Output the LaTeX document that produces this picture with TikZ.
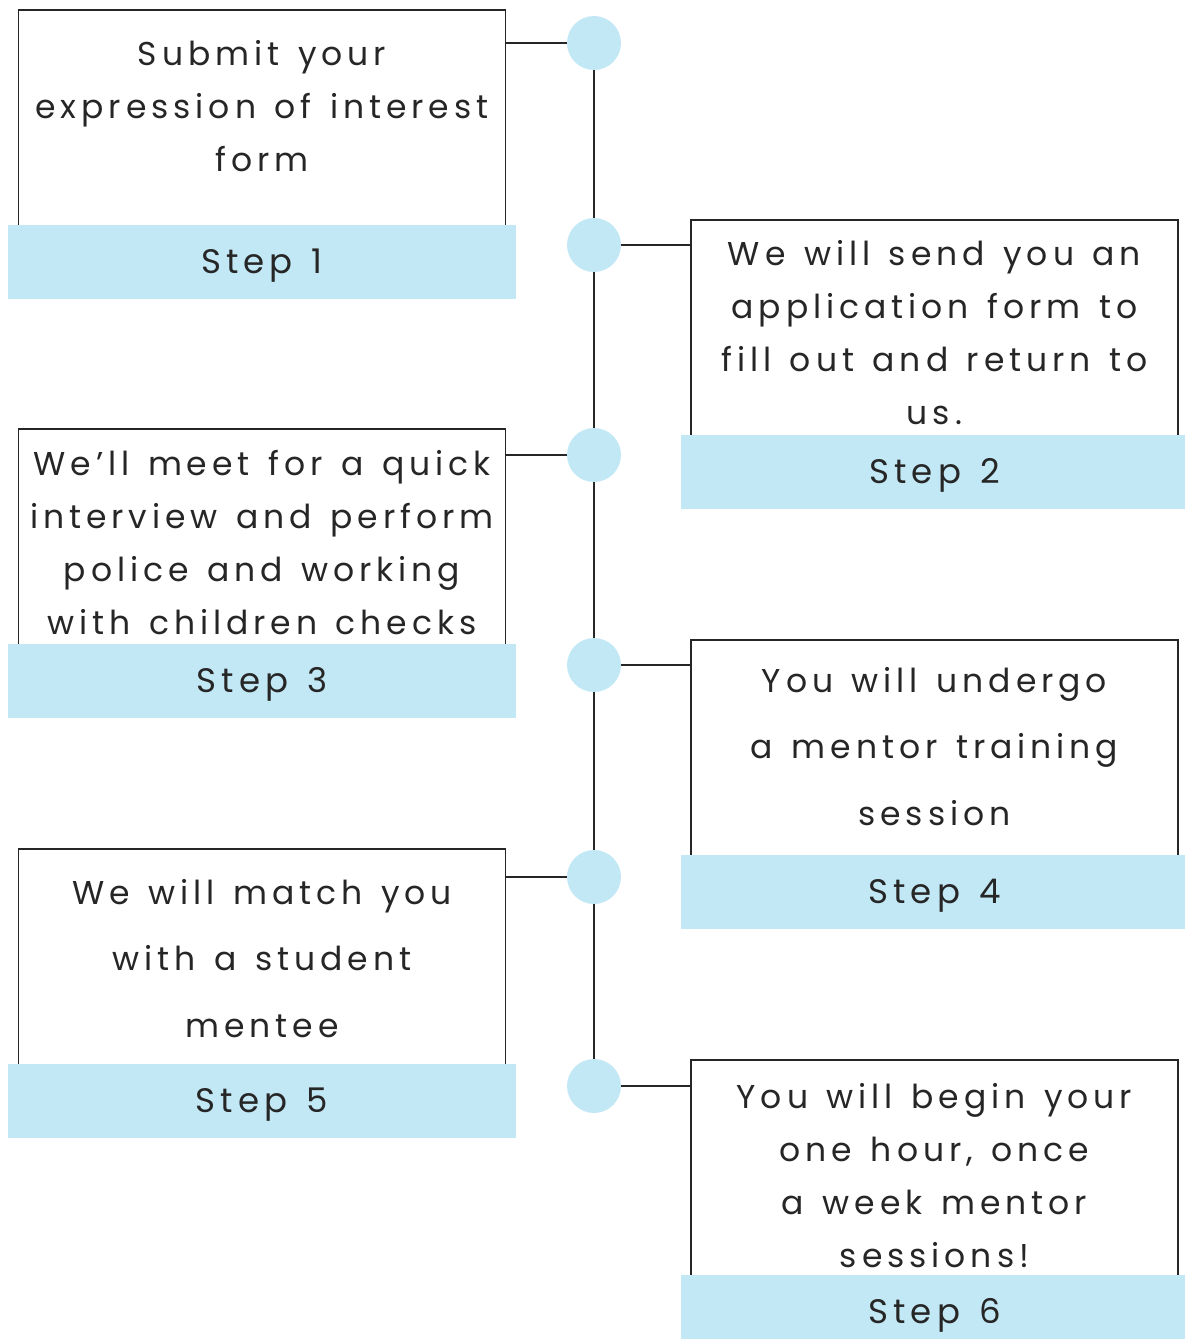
\documentclass[tikz,border=0pt]{standalone}
\usepackage{fontspec}
\setmainfont{Poppins}[LetterSpace=15,WordSpace=1.35]
\usetikzlibrary{positioning}
\definecolor{stepblue}{HTML}{C2E8F6}
\definecolor{ink}{HTML}{262626}

\begin{document}
\begin{tikzpicture}[x=1pt,y=-1pt,
  card/.style={draw=ink,line width=1.6pt,minimum width=487pt,minimum height=216pt,anchor=north,inner sep=0pt},
  band/.style={fill=stepblue,minimum width=508pt,minimum height=74pt,inner sep=0pt,text=ink,
    font=\fontsize{34}{40}\selectfont,text height=24pt,text depth=0pt},
  dot/.style={circle,fill=stepblue,minimum size=54pt,inner sep=0pt},
  words/.style={align=center,text=ink,inner sep=0pt,anchor=north,font=\fontsize{33}{53}\selectfont},
  wide/.style={font=\fontsize{33}{66.5}\selectfont},
  link/.style={draw=ink,line width=1.6pt}]
\useasboundingbox (0,0) rectangle (1184,1339);

\node[card] (card1) at (262,9) {};
\node[card] (card2) at (934.5,219) {};
\node[card] (card3) at (262,428) {};
\node[card] (card4) at (934.5,639) {};
\node[card] (card5) at (262,848) {};
\node[card] (card6) at (934.5,1059) {};

\node[band,below=-2pt of card1] (step1) {Step 1};
\node[band,below=-2pt of card2] (step2) {Step 2};
\node[band,below=-2pt of card3] (step3) {Step 3};
\node[band,below=-2pt of card4] (step4) {Step 4};
\node[band,below=-2pt of card5] (step5) {Step 5};
\node[band,below=-2pt of card6] (step6) {Step 6};

\node[words,below=31pt of card1.north] (text1) {Submit your\\expression of interest\\form};
\node[words,below=21pt of card2.north] (text2) {We will send you an\\application form to\\fill out and return to\\us.};
\node[words,below=22pt of card3.north] (text3) {We’ll meet for a quick\\interview and perform\\police and working\\with children checks};
\node[words,wide,below=28pt of card4.north] (text4) {You will undergo\\a mentor training\\session};
\node[words,wide,below=31pt of card5.north] (text5) {We will match you\\with a student\\mentee};
\node[words,below=24pt of card6.north] (text6) {You will begin your\\one hour, once\\a week mentor\\sessions!};

\coordinate (t1) at (594,43);
\coordinate (t2) at (594,245);
\coordinate (t3) at (594,455);
\coordinate (t4) at (594,665);
\coordinate (t5) at (594,877);
\coordinate (t6) at (594,1086);

\path[link] (t1) -- (t6)
  (card1.east |- t1) -- (t1)
  (t2) -- (card2.west |- t2)
  (card3.east |- t3) -- (t3)
  (t4) -- (card4.west |- t4)
  (card5.east |- t5) -- (t5)
  (t6) -- (card6.west |- t6);

\node[dot] (dot1) at (t1) {};
\node[dot] (dot2) at (t2) {};
\node[dot] (dot3) at (t3) {};
\node[dot] (dot4) at (t4) {};
\node[dot] (dot5) at (t5) {};
\node[dot] (dot6) at (t6) {};
\end{tikzpicture}
\end{document}
